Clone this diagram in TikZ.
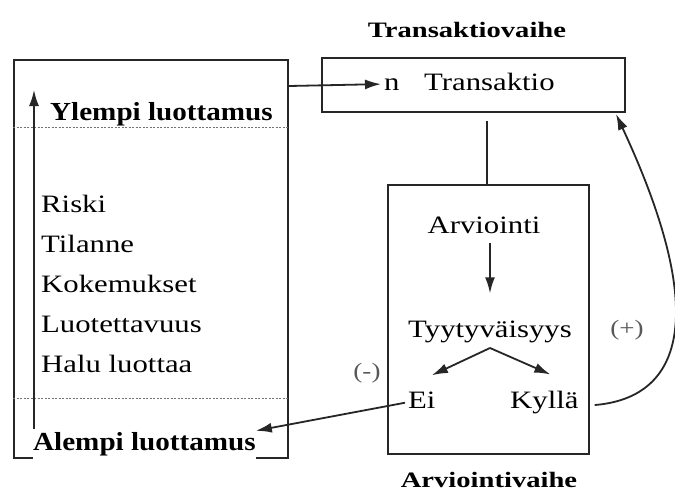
\documentclass[tikz,border=0pt]{standalone}
\usepackage{fontspec}
\setmainfont{Liberation Serif}
\usepackage{graphicx}
\usetikzlibrary{arrows.meta,calc}
\newcommand\wreg[1]{\scalebox{1.23}[1]{#1}}
\newcommand\wbold[1]{\scalebox{1.12}[1]{#1}}
\newcommand\wtitle[1]{\scalebox{1.3}[1]{#1}}
\begin{document}
\begin{tikzpicture}[x=1pt,y=-1pt,
  reg/.style={inner sep=0pt, text=black, font=\fontsize{25}{30}\selectfont},
  bld/.style={inner sep=0pt, font=\bfseries\fontsize{26}{30}\selectfont},
  ttl/.style={inner sep=0pt, font=\bfseries\fontsize{22}{26}\selectfont},
  sgn/.style={inner sep=0pt, text=black!65, font=\fontsize{22}{26}\selectfont},
  boxx/.style={draw=black!85, line width=2pt, inner sep=0pt},
  arr/.style={draw=black!85, line width=1.8pt, -{Latex[length=16pt,width=10pt]}},
  ln/.style={draw=black!85, line width=1.8pt},
  dline/.style={draw=black!55, line width=0.8pt, dash pattern=on 2pt off 1.5pt}]
\useasboundingbox[fill=white] (0,0) rectangle (675,491);
% boxes
\node[boxx, minimum width=274pt, minimum height=398pt] (left) at (151,259) {};
\node[boxx, minimum width=303pt, minimum height=54pt] (top) at (473.5,85) {};
\node[boxx, minimum width=201pt, minimum height=269pt] (evalb) at (488.5,319.5) {};
% titles
\node[ttl, anchor=base] (tv) at (467,37) {\wtitle{Transaktiovaihe}};
\node[ttl, anchor=base] (av) at (489,487) {\wtitle{Arviointivaihe}};
% left box content
\draw[dline] (left.west |- 0,127) -- (left.east |- 0,127);
\draw[dline] (left.west |- 0,398) -- (left.east |- 0,398);
\coordinate (vbot) at (34,432);
\coordinate (vtop) at (34,90);
\draw[arr] (vbot) -- (vtop);
\node[bld, anchor=base west] (ylempi) at (50,120) {\wbold{Ylempi luottamus}};
\node[bld, anchor=base west, fill=white, inner ysep=3pt] (alempi) at (33,450) {\wbold{Alempi luottamus}};
\node[reg, anchor=base west] (riski) at (41,212) {\wreg{Riski}};
\node[reg, anchor=base west] (tilanne) at (41,252) {\wreg{Tilanne}};
\node[reg, anchor=base west] (kok) at (41,292) {\wreg{Kokemukset}};
\node[reg, anchor=base west] (luot) at (41,332) {\wreg{Luotettavuus}};
\node[reg, anchor=base west] (halu) at (41,372) {\wreg{Halu luottaa}};
% top box content
\node[reg, anchor=base west] (n) at (384,90) {\wreg{n}};
\node[reg, anchor=base west] (trans) at (424,90) {\wreg{Transaktio}};
\coordinate (lout) at (left.north east |- 0,86);
\draw[arr] (lout) -- ($(n.west)+(-3,0)$);
\draw[ln] (evalb.north -| 487,0) ++(0,-63) -- (evalb.north -| 487,0);
% eval box content
\node[reg, anchor=base] (arv) at (484,233) {\wreg{Arviointi}};
\node[reg, anchor=base] (tyy) at (490,337) {\wreg{Tyytyväisyys}};
\node[reg, anchor=base west] (ei) at (408,408) {\wreg{Ei}};
\node[reg, anchor=base west] (kyl) at (510,408) {\wreg{Kyllä}};
\draw[arr] ($(arv.south)+(6,10)$) -- ($(tyy.north)+(0,-27)$);
\coordinate (apex) at (490,348);
\draw[arr] (apex) -- ($(ei.north)+(10,-16)$);
\draw[arr] (apex) -- ($(kyl.north)+(6,-16)$);
\node[sgn] (minus) at (367,373) {\wreg{(-)}};
\node[sgn] (plus) at (627,330) {\wreg{(+)}};
% feedback connectors
\draw[arr] ($(ei.west)+(-3,3)$) -- ($(alempi.east)+(0,-13)$);
\draw[arr] ($(kyl.east)+(16,3)$) .. controls (680,398) and (712,320) .. ($(top.south east)+(-10,1)$);
\end{tikzpicture}
\end{document}
